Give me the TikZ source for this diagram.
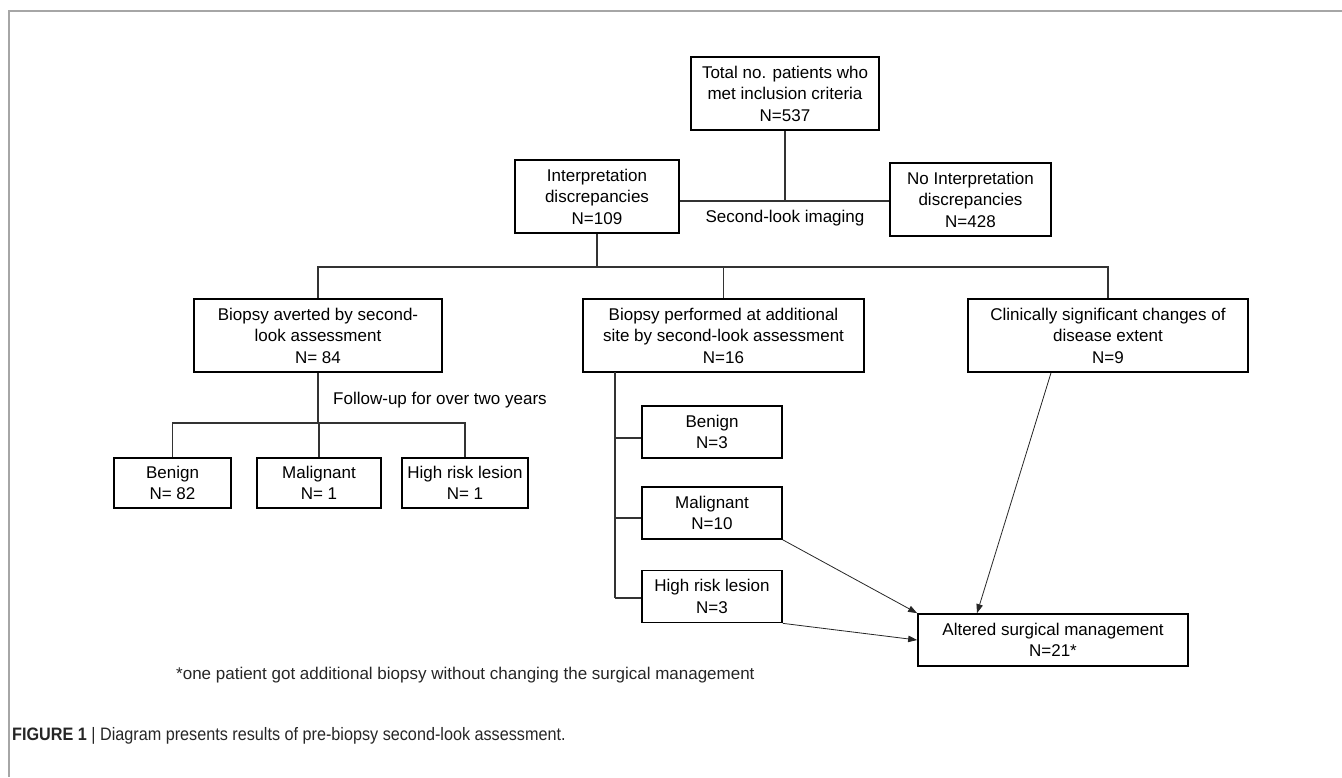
\documentclass[tikz,border=0pt]{standalone}
\usepackage{fontspec}
\setmainfont{Liberation Sans}
\usetikzlibrary{arrows.meta}
\begin{document}
\begin{tikzpicture}[x=1pt,y=-1pt,
  box/.style={draw=black,line width=1.7pt,align=center,inner sep=0pt,
    font=\fontsize{17}{21.5}\selectfont},
  conn/.style={draw=black!80,line width=1.2pt},
  arr/.style={draw=black!85,line width=0.8pt,-{Triangle[length=9pt,width=6.5pt]}},
  lbl/.style={font=\fontsize{17}{21.5}\selectfont,inner sep=0pt},
  frame/.style={draw=black!35,line width=1.6pt}]
\useasboundingbox (0,0) rectangle (1342,777);
\draw[frame] (1342,11) -- (9,11) -- (9,777);

% level 0/1
\node[box,minimum width=188pt,minimum height=73pt] (top) at (785,93.5) {Total no. patients who\\met inclusion criteria\\N=537};
\node[box,minimum width=164pt,minimum height=73pt] (interp) at (597,196.5) {Interpretation\\discrepancies\\N=109};
\node[box,minimum width=161pt,minimum height=73pt] (nointerp) at (970.5,199.5) {No Interpretation\\discrepancies\\N=428};
\coordinate (j0) at (785,201);
\draw[conn] (interp.east |- j0) -- (nointerp.west |- j0);
\draw[conn] (top.south) -- (j0);
\node[lbl] (slook) at (785,218) {Second-look imaging};

% level 2
\node[box,minimum width=248pt,minimum height=73pt] (avert) at (318,335.5) {Biopsy averted by second-\\look assessment\\N= 84};
\node[box,minimum width=281pt,minimum height=73pt] (perf) at (723.5,335.5) {Biopsy performed at additional\\site by second-look assessment\\N=16};
\node[box,minimum width=280pt,minimum height=73pt] (clin) at (1108,335.5) {Clinically significant changes of\\disease extent\\N=9};
\coordinate (j1) at (597,267);
\draw[conn] (interp.south) -- (j1);
\draw[conn] (avert.north) |- (j1) -| (clin.north);
\draw[conn] (perf.north) -- (perf.north |- j1);

% averted branch
\node[lbl] (fup) at (440,400) {Follow-up for over two years};
\node[box,minimum width=117pt,minimum height=50pt] (ben1) at (172.5,483) {Benign\\N= 82};
\node[box,minimum width=124pt,minimum height=50pt] (mal1) at (319,483) {Malignant\\N= 1};
\node[box,minimum width=126pt,minimum height=50pt] (hr1) at (465,483) {High risk lesion\\N= 1};
\coordinate (j2) at (318,423);
\draw[conn] (avert.south) -- (j2);
\draw[conn] (ben1.north) |- (j2) -| (hr1.north);
\draw[conn] (mal1.north) -- (mal1.north |- j2);

% performed branch
\node[box,minimum width=140pt,minimum height=52pt] (ben2) at (712,432) {Benign\\N=3};
\node[box,minimum width=140pt,minimum height=52pt] (mal2) at (712,513) {Malignant\\N=10};
\node[box,minimum width=140pt,minimum height=52pt] (hr2) at (712,596.5) {High risk lesion\\N=3};
\coordinate (v0) at (615,372);
\coordinate (b1) at (615,438);
\coordinate (b2) at (615,518);
\coordinate (b3) at (615,598);
\draw[conn] (v0) -- (b3);
\draw[conn] (b1) -- (ben2.west |- b1);
\draw[conn] (b2) -- (mal2.west |- b2);
\draw[conn] (b3) -- (hr2.west |- b3);

% altered
\node[box,minimum width=270pt,minimum height=52pt] (alt) at (1053,640) {Altered surgical management\\N=21*};
\draw[arr] (mal2.south east) -- (alt.north west);
\draw[arr] (hr2.south east) -- (alt.west);
\draw[arr] ([xshift=-57pt]clin.south) -- ([xshift=-76pt]alt.north);

% notes
\node[anchor=west,inner sep=0pt,font=\fontsize{17}{20}\selectfont,text=black!85] (note) at (176,675) {*one patient got additional biopsy without changing the surgical management};
\node[anchor=west,inner sep=0pt,font=\fontsize{18}{21}\selectfont,text=black!85] (cap) at (12,736) {\scalebox{0.9}[1]{\textbf{FIGURE 1} \textbar\ Diagram presents results of pre-biopsy second-look assessment.}};
\end{tikzpicture}
\end{document}
